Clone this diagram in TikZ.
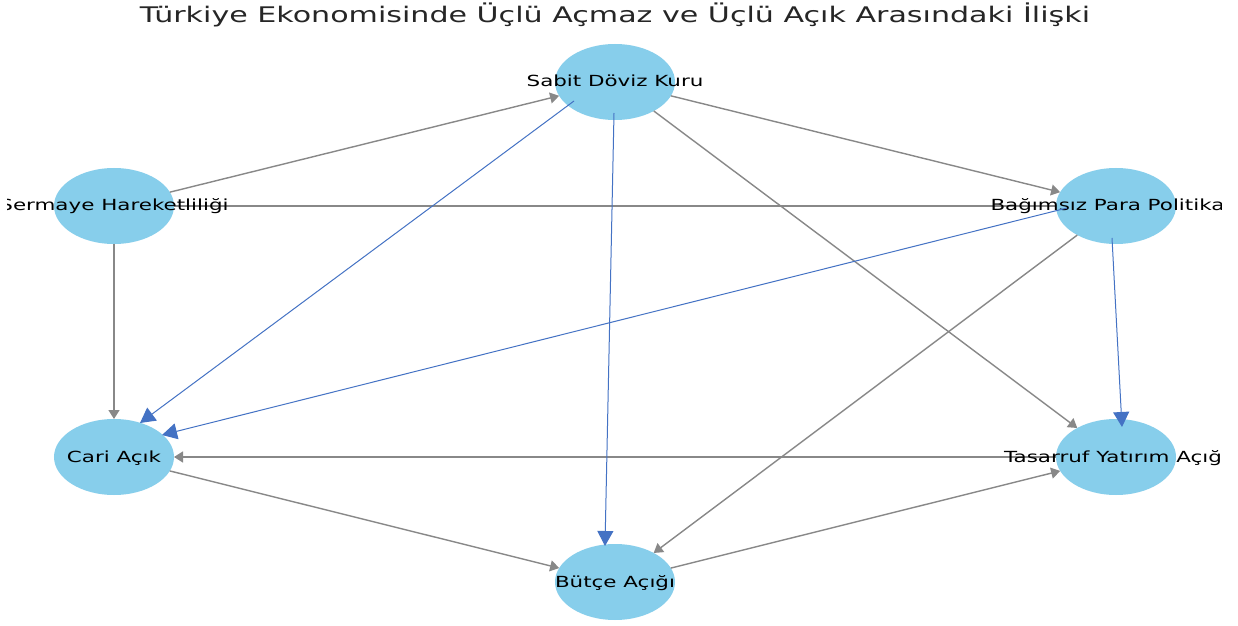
\documentclass[tikz,border=0pt]{standalone}
\usepackage{fontspec}
\setmainfont{DejaVu Sans}
\newfontfamily\widefont[FakeStretch=1.4]{DejaVu Sans}
\usetikzlibrary{arrows.meta,shapes.geometric,calc}
\definecolor{nodefill}{RGB}{135,206,235}
\definecolor{edgegray}{RGB}{136,136,136}
\definecolor{edgeblue}{RGB}{68,114,196}
\definecolor{titlecol}{RGB}{38,38,38}
\tikzset{
  vert/.style={ellipse, fill=nodefill, minimum width=120bp, minimum height=76bp, inner sep=0pt, outer sep=0pt},
  lab/.style={anchor=base, inner sep=0pt, font=\widefont\fontsize{15.3bp}{18bp}\selectfont, text=black},
  gedge/.style={draw=edgegray, line width=1.4bp, -{Triangle[length=9bp,width=11bp]}},
  gline/.style={draw=edgegray, line width=1.4bp},
  bedge/.style={draw=edgeblue, line width=1bp, -{Triangle[length=15bp,width=16bp]}}
}
\begin{document}
\begin{tikzpicture}[x=1bp,y=-1bp]
\useasboundingbox (0,0) rectangle (1238,626);
\fill[white] (0,0) rectangle (1238,626);
% title
\node[anchor=base, inner sep=0pt, text=titlecol, font=\widefont\fontsize{21.5bp}{26bp}\selectfont] (title) at (615,23) {Türkiye Ekonomisinde Üçlü Açmaz ve Üçlü Açık Arasındaki İlişki};
% nodes
\node[vert] (sab) at (615,82) {};
\node[vert] (ser) at (114,206) {};
\node[vert] (bag) at (1116,206) {};
\node[vert] (cari) at (114,457) {};
\node[vert] (tas) at (1116,457) {};
\node[vert] (but) at (615,582) {};
% gray edges
\draw[gedge] (ser) -- (sab);
\draw[gedge] (sab) -- (bag);
\draw[gline] (ser) -- (bag);
\draw[gedge] (ser) -- (cari);
\draw[gedge] (sab) -- (tas);
\draw[gedge] (bag) -- (but);
\draw[gedge] (tas) -- (cari);
\draw[gedge] (cari) -- (but);
\draw[gedge] (but) -- (tas);
% labels
\begin{scope}
\clip (7,0) rectangle (1221,626);
\node[lab] (sabL) at ($(sab)+(0,5)$) {Sabit Döviz Kuru};
\node[lab] (serL) at ($(ser)+(0,5)$) {Sermaye Hareketliliği};
\node[lab] (bagL) at ($(bag)+(0,5)$) {Bağımsız Para Politikası};
\node[lab] (cariL) at ($(cari)+(0,5)$) {Cari Açık};
\node[lab] (tasL) at ($(tas)+(0,5)$) {Tasarruf Yatırım Açığı};
\node[lab] (butL) at ($(but)+(0,5)$) {Bütçe Açığı};
\end{scope}
% blue edges
\draw[bedge] ($(sab)+(-41,19)$) -- ($(cari)+(26,-34)$);
\draw[bedge] ($(sab)+(-1,31)$) -- ($(but)+(-10,-36)$);
\draw[bedge] ($(bag)+(-49,2)$) -- ($(cari)+(48,-22)$);
\draw[bedge] ($(bag)+(-4,32)$) -- ($(tas)+(6,-30)$);
\end{tikzpicture}
\end{document}
